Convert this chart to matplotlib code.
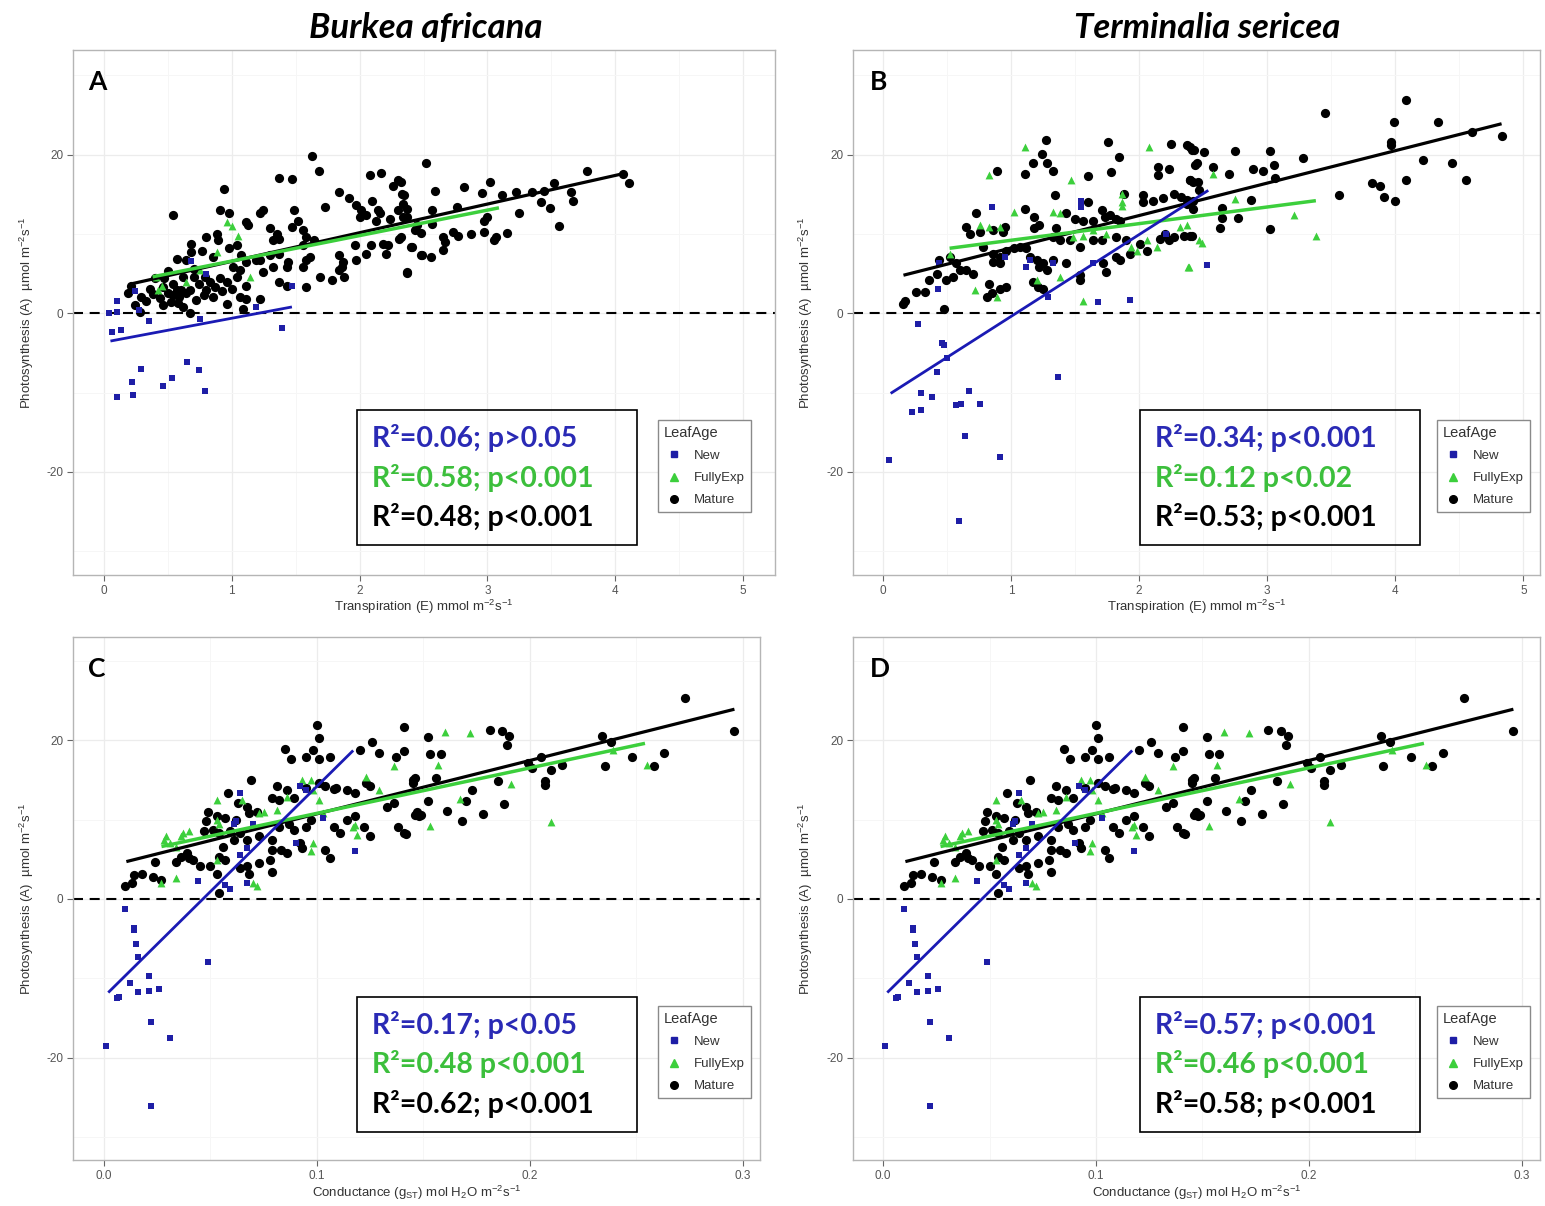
import matplotlib
matplotlib.use('Agg')
import matplotlib.pyplot as plt
from matplotlib.patches import Rectangle
from matplotlib.lines import Line2D

plt.rcParams['font.family'] = ['Liberation Sans', 'DejaVu Sans']
plt.rcParams['mathtext.fontset'] = 'custom'
plt.rcParams['mathtext.rm'] = 'Liberation Sans'
plt.rcParams['mathtext.it'] = 'Liberation Sans:italic'
plt.rcParams['mathtext.default'] = 'regular'
plt.rcParams['axes.unicode_minus'] = False

# ---------------- Panel A: Burkea africana, A vs E ----------------
a_new_x = [0.10, 0.04, 0.10, 0.06, 0.13, 0.24, 0.35, 0.27, 0.68, 0.80, 0.75, 1.19, 1.47, 1.39,
           0.29, 0.22, 0.10, 0.23, 0.46, 0.53, 0.65, 0.74, 0.79]
a_new_y = [1.55, 0.0, 0.2, -2.4, -2.1, 2.8, -1.0, 0.4, 6.6, 5.0, -0.7, 0.8, 3.5, -1.8,
           -7.0, -8.7, -10.6, -10.3, -9.2, -8.2, -6.1, -7.2, -9.8]
a_fe_x = [0.96, 1.05, 0.88, 1.14, 0.42, 0.64, 0.41, 0.45, 0.75, 1.00]
a_fe_y = [11.5, 9.7, 7.7, 4.6, 2.9, 4.0, 4.6, 3.5, 5.5, 11.0]
a_mat_x = [1.63, 1.68, 1.37, 1.47, 2.08, 2.17, 2.30, 2.26, 0.94, 0.54, 0.91, 0.98, 1.24, 1.22, 1.11, 1.13,
           1.49, 1.52, 1.84, 1.92, 1.97, 2.01, 2.00, 2.05, 2.10, 2.14, 2.16, 2.13, 2.33, 2.34, 2.30, 2.37,
           2.24, 1.73, 1.30, 1.35, 1.37, 1.32, 1.47, 1.56, 1.58, 1.64, 1.56, 0.80, 0.88, 0.89, 0.68, 0.68,
           0.77, 0.85, 0.57, 0.64, 0.98, 1.04, 1.07, 1.11, 1.19, 1.22, 1.30, 1.37, 1.44, 1.43, 1.61, 1.58,
           1.56, 1.84, 1.87, 1.86, 1.84, 1.88, 1.69, 1.78, 1.96, 1.97, 2.05, 2.09, 2.18, 2.21, 2.22, 2.31,
           2.40, 2.48, 2.37,
           0.21, 0.19, 0.29, 0.36, 0.46, 0.50, 0.54, 0.59, 0.64, 0.67, 0.74, 0.80, 0.85, 0.83, 0.91, 0.96,
           1.04, 1.06, 1.11, 0.96, 1.06, 1.11, 1.22, 1.09, 1.24, 1.32, 1.37, 1.43, 1.58, 0.24, 0.28, 0.46,
           0.62, 0.67, 0.87, 0.79, 0.70, 0.62, 0.54, 0.40, 0.47, 0.57, 1.01,
           0.33, 0.44, 0.52, 0.60, 0.72, 0.78, 0.92, 1.00, 0.70, 0.50, 0.38, 0.58,
           2.52, 2.32, 2.35, 2.37, 2.34, 2.59, 2.82, 3.02, 2.96, 3.11, 3.22, 3.35, 3.44, 3.52, 3.78, 4.06,
           4.11, 3.65, 3.67, 3.42, 3.49, 3.56, 3.25, 2.76, 2.57, 2.57, 2.97, 3.00, 2.97, 3.05, 3.07, 3.15,
           2.87, 2.73, 2.77, 2.65, 2.67, 2.65, 2.56, 2.49, 2.41, 2.37, 2.43, 2.48, 2.45, 2.32]
a_mat_y = [19.8, 17.9, 17.0, 16.9, 17.4, 17.7, 16.8, 16.1, 15.7, 12.4, 13.0, 12.6, 13.0, 12.6, 11.5, 11.1,
           13.0, 11.7, 15.3, 14.5, 13.6, 13.0, 12.1, 12.4, 14.2, 13.0, 12.6, 11.7, 15.0, 13.8, 13.0, 12.1,
           11.9, 13.4, 10.7, 10.0, 9.4, 9.2, 10.9, 10.5, 9.6, 9.2, 8.6, 9.6, 10.0, 9.2, 8.8, 7.7,
           7.9, 7.1, 6.9, 6.7, 8.2, 8.6, 7.3, 6.5, 6.7, 6.7, 7.3, 7.5, 6.5, 5.8, 7.1, 6.7,
           5.8, 7.3, 6.5, 5.8, 5.4, 4.6, 4.6, 4.2, 8.6, 6.7, 7.5, 8.6, 8.8, 7.5, 8.6, 9.4,
           8.4, 7.3, 5.2,
           3.5, 2.5, 2.1, 3.1, 3.3, 2.5, 2.3, 2.1, 2.5, 2.9, 3.7, 2.9, 2.1, 4.0, 4.4, 4.0,
           4.6, 5.4, 3.5, 1.2, 2.1, 1.8, 1.8, 0.6, 5.2, 5.8, 4.0, 3.5, 3.3, 1.0, 0.2, 1.0,
           0.8, 0.0, 3.3, 4.6, 4.6, 4.6, 3.7, 4.4, 4.4, 2.9, 5.8,
           1.6, 1.9, 1.4, 3.0, 1.7, 2.3, 2.8, 3.1, 5.6, 5.3, 2.4, 1.3,
           18.9, 16.6, 14.9, 13.2, 12.1, 15.4, 15.9, 16.6, 15.2, 14.9, 15.3, 15.3, 15.4, 16.4, 18.0, 17.6,
           16.4, 15.3, 14.2, 14.0, 13.3, 11.0, 12.6, 13.4, 13.0, 11.3, 11.7, 12.1, 10.3, 9.3, 9.6, 10.1,
           10.0, 10.3, 9.7, 9.6, 9.0, 8.0, 7.1, 7.3, 8.4, 5.1, 10.5, 10.1, 11.1, 9.6]
a_fit_new_x = [0.05, 1.47]
a_fit_new_y = [-3.5, 0.8]
a_fit_fe_x = [0.38, 3.09]
a_fit_fe_y = [4.6, 13.3]
a_fit_mat_x = [0.21, 4.06]
a_fit_mat_y = [3.7, 17.6]
a_stats = ["R²=0.06; p>0.05", "R²=0.58; p<0.001", "R²=0.48; p<0.001"]

# ---------------- Panel B: Terminalia sericea, A vs E ----------------
b_new_x = [0.85, 0.44, 0.43, 1.12, 1.15, 1.33, 1.55, 1.55, 0.95, 1.29, 1.68, 1.93, 1.64, 2.21,
           0.27, 0.46, 0.48, 0.42, 0.50, 1.37, 0.30, 0.38, 0.23, 0.30, 0.57, 0.61, 0.67, 0.76,
           0.64, 0.05, 0.91, 0.59, 2.53]
b_new_y = [13.4, 6.3, 3.1, 5.8, 6.7, 6.3, 14.2, 13.4, 7.1, 2.1, 1.4, 1.7, 6.3, 10.0,
           -1.3, -3.8, -4.0, -7.4, -5.7, -8.0, -10.1, -10.6, -12.4, -12.2, -11.6, -11.5, -9.8, -11.4,
           -15.5, -18.5, -18.1, -26.2, 6.1]
b_fe_x = [1.11, 0.83, 1.47, 1.87, 2.08, 1.02, 0.76, 0.83, 0.91, 1.33, 1.38, 1.48, 1.56, 1.64, 1.74,
          1.87, 1.87, 1.94, 1.98, 2.06, 2.14, 0.72, 0.89, 1.56, 2.38, 1.38, 2.47, 0.52, 1.20, 2.32,
          2.37, 2.58, 2.75, 3.21, 3.38, 2.49, 2.39]
b_fe_y = [21.0, 17.4, 16.8, 15.1, 21.0, 12.8, 11.1, 10.9, 10.9, 12.8, 12.6, 9.6, 9.8, 10.5, 10.0,
          14.0, 13.5, 8.4, 7.9, 9.2, 8.4, 2.9, 2.1, 1.6, 5.8, 4.6, 9.2, 7.5, 4.2, 10.9,
          11.1, 17.6, 14.4, 12.4, 9.7, 8.9, 5.8]
b_mat_x = [1.27, 1.24, 1.17, 1.28, 1.33, 1.11, 0.89, 1.60, 1.76, 1.84, 1.78, 2.25, 2.40, 2.43, 2.45, 2.15,
           2.23, 2.15, 1.34, 1.11, 0.73, 0.65, 0.76, 0.95, 0.68, 1.18, 1.22, 1.18, 1.35, 1.43, 1.50, 1.56,
           1.64, 1.73, 1.77, 1.82, 1.85, 2.03, 2.11, 2.19, 2.27, 2.33, 2.37, 2.42, 2.47, 2.40, 2.42, 1.33,
           1.38, 1.46, 1.54, 1.64, 1.71, 1.82, 1.90, 2.01, 2.06, 2.16, 2.23, 2.20, 2.27, 2.40, 0.78, 0.86,
           0.91, 0.96, 1.02, 1.07, 1.12, 1.15, 1.20, 1.25, 1.33, 1.28, 1.22, 1.43, 1.54, 1.54, 1.72, 1.74,
           1.82, 1.85, 1.93, 0.44, 0.52, 0.57, 0.60, 0.65, 0.70, 0.55, 0.49, 0.42, 0.36, 0.33, 0.26, 0.17,
           0.16, 0.48, 0.83, 0.91, 0.96, 0.81, 0.85, 1.17, 1.21, 1.25, 0.86, 0.91, 0.94, 0.86, 1.60, 1.71,
           1.88, 2.03,
           3.45, 4.08, 3.99, 4.33, 3.97, 3.97, 4.83, 4.60, 4.22, 4.44, 4.55, 4.08, 3.82, 3.88, 3.91, 4.00,
           3.56, 3.28, 3.02, 2.75, 2.51, 2.37, 2.41, 2.44, 2.58, 2.70, 2.89, 2.97, 3.05, 2.40, 2.46, 3.06,
           2.87, 2.65, 2.65, 2.77, 2.63, 3.02, 2.42, 2.37, 2.35, 2.41]
b_mat_y = [21.8, 20.1, 18.9, 18.9, 18.0, 17.6, 18.0, 17.3, 21.6, 19.7, 17.8, 21.4, 21.0, 20.6, 18.9, 18.5,
           18.2, 17.4, 14.9, 13.2, 12.6, 10.9, 10.3, 10.9, 10.0, 12.1, 11.1, 10.7, 10.7, 12.6, 11.9, 11.7,
           11.7, 12.1, 12.4, 11.9, 11.7, 14.9, 14.2, 14.5, 15.1, 14.7, 13.8, 14.2, 15.5, 16.8, 16.6, 9.6,
           9.2, 9.2, 8.4, 9.2, 9.2, 9.6, 9.2, 8.8, 7.9, 9.4, 9.2, 10.0, 9.6, 9.8, 8.4, 7.5,
           7.1, 7.9, 8.2, 8.4, 8.2, 7.1, 6.7, 6.3, 6.7, 5.4, 5.8, 6.3, 4.8, 4.2, 6.3, 5.2,
           7.1, 6.7, 7.5, 6.7, 7.1, 6.3, 5.4, 5.4, 5.0, 4.6, 4.2, 5.0, 4.2, 2.7, 2.7, 1.6,
           1.2, 0.6, 3.7, 3.1, 3.3, 2.1, 2.5, 4.0, 3.3, 3.1, 6.5, 6.3, 10.3, 10.5, 14.0, 13.0,
           15.1, 14.0,
           25.3, 26.9, 24.1, 24.1, 21.6, 21.2, 22.3, 22.9, 19.3, 18.9, 16.8, 16.8, 16.4, 16.1, 14.7, 14.2,
           14.9, 19.6, 20.5, 20.5, 20.4, 21.2, 20.6, 18.7, 18.4, 17.6, 18.2, 18.0, 18.7, 16.8, 16.6, 17.0,
           14.3, 13.3, 12.0, 12.0, 10.8, 10.6, 13.2, 14.3, 9.7, 9.7]
b_fit_new_x = [0.06, 2.54]
b_fit_new_y = [-10.1, 15.5]
b_fit_fe_x = [0.52, 3.38]
b_fit_fe_y = [8.2, 14.2]
b_fit_mat_x = [0.16, 4.83]
b_fit_mat_y = [4.8, 23.9]
b_stats = ["R²=0.34; p<0.001", "R²=0.12 p<0.02", "R²=0.53; p<0.001"]

# ---------------- Panels C and D: A vs gST (same points in both) ----------------
cd_new_x = [0.064, 0.061, 0.062, 0.070, 0.092, 0.095, 0.103, 0.090, 0.118, 0.067, 0.067, 0.044, 0.057,
            0.059, 0.064, 0.010, 0.014, 0.014, 0.015, 0.016, 0.049, 0.012, 0.021, 0.016, 0.021, 0.026,
            0.007, 0.006, 0.022, 0.031, 0.001, 0.022]
cd_new_y = [13.3, 9.5, 9.8, 9.5, 14.2, 13.7, 10.2, 7.0, 6.0, 6.4, 2.0, 2.2, 1.8,
            1.3, 5.5, -1.3, -3.7, -3.9, -5.7, -7.3, -8.0, -10.6, -9.7, -11.7, -11.6, -11.4,
            -12.3, -12.5, -15.5, -17.5, -18.5, -26.1]
cd_fe_x = [0.053, 0.028, 0.031, 0.036, 0.037, 0.040, 0.034, 0.029, 0.027, 0.034, 0.053, 0.054, 0.065,
           0.073, 0.075, 0.081, 0.086, 0.093, 0.097, 0.098, 0.101, 0.103, 0.097, 0.098, 0.123, 0.129,
           0.136, 0.118, 0.117, 0.119, 0.072, 0.070, 0.053, 0.160, 0.172, 0.157, 0.191, 0.167, 0.153,
           0.210, 0.255, 0.239]
cd_fe_y = [12.5, 7.4, 7.0, 7.9, 8.3, 8.5, 6.6, 7.9, 2.0, 2.6, 10.0, 9.5, 12.5,
           10.8, 11.0, 11.2, 12.9, 15.0, 15.0, 13.7, 12.5, 10.8, 6.0, 7.0, 15.4, 13.7,
           16.7, 9.3, 9.1, 8.1, 1.6, 2.0, 4.9, 21.0, 20.9, 16.9, 14.5, 12.6, 9.2,
           9.7, 16.9, 18.7]
cd_mat_x = [0.100, 0.101, 0.085, 0.088, 0.095, 0.098, 0.101, 0.106, 0.120, 0.126, 0.129, 0.137, 0.141,
            0.141, 0.069, 0.081, 0.086, 0.095, 0.101, 0.109, 0.114, 0.118, 0.058, 0.063, 0.067, 0.068,
            0.072, 0.079, 0.082, 0.089, 0.049, 0.053, 0.057, 0.062, 0.048, 0.047, 0.051, 0.054, 0.059,
            0.064, 0.067, 0.061, 0.056, 0.054, 0.057, 0.039, 0.040, 0.042, 0.045, 0.034, 0.036, 0.024,
            0.023, 0.027, 0.018, 0.014, 0.010, 0.013, 0.050, 0.053, 0.054, 0.064, 0.067, 0.068, 0.073,
            0.078, 0.079, 0.079, 0.086, 0.083, 0.092, 0.093, 0.095, 0.097, 0.106, 0.104, 0.108, 0.111,
            0.114, 0.118, 0.122, 0.125, 0.133, 0.136, 0.138, 0.141, 0.147, 0.148, 0.145, 0.108, 0.104,
            0.123, 0.125, 0.073, 0.079, 0.082, 0.087, 0.089,
            0.273, 0.296, 0.263, 0.248, 0.258, 0.235, 0.234, 0.238, 0.215, 0.210, 0.207, 0.207, 0.201,
            0.199, 0.205, 0.181, 0.187, 0.190, 0.189, 0.152, 0.153, 0.158, 0.146, 0.145, 0.156, 0.173,
            0.185, 0.188, 0.178, 0.170, 0.168, 0.161, 0.152, 0.146, 0.149, 0.142]
cd_mat_y = [21.9, 20.3, 18.9, 17.6, 17.9, 18.8, 17.6, 17.9, 18.7, 19.8, 18.4, 17.9, 21.7,
            18.6, 15.0, 14.2, 13.7, 14.0, 14.6, 14.0, 13.7, 13.3, 13.3, 12.1, 11.6, 10.8,
            11.0, 12.7, 12.5, 12.7, 11.0, 10.4, 10.2, 10.0, 9.8, 8.5, 8.7, 8.3, 8.5,
            8.3, 7.4, 7.4, 6.6, 5.3, 4.9, 5.8, 5.1, 4.9, 4.1, 4.7, 5.3, 4.7,
            2.8, 2.4, 3.2, 3.0, 1.6, 2.0, 4.1, 3.2, 0.7, 3.9, 4.1, 3.2, 4.5,
            4.9, 6.2, 3.4, 5.8, 6.2, 7.0, 6.4, 9.1, 10.0, 5.1, 6.2, 9.1, 8.3,
            10.0, 10.4, 9.1, 7.9, 11.6, 12.1, 9.1, 8.3, 11.0, 10.4, 15.0, 13.9, 14.2,
            14.6, 14.2, 7.9, 7.4, 9.1, 9.5, 8.7,
            25.3, 21.1, 18.4, 17.9, 16.8, 16.8, 20.5, 19.8, 16.9, 16.3, 14.4, 14.8, 16.5,
            17.1, 17.9, 21.3, 21.1, 20.5, 19.4, 20.4, 18.3, 18.3, 15.2, 14.6, 15.2, 13.7,
            14.9, 12.0, 10.7, 12.3, 9.8, 11.1, 12.3, 10.6, 10.6, 8.2]
cd_fit_new_x = [0.002, 0.117]
cd_fit_new_y = [-11.8, 18.7]
cd_fit_fe_x = [0.027, 0.254]
cd_fit_fe_y = [6.6, 19.6]
cd_fit_mat_x = [0.0105, 0.296]
cd_fit_mat_y = [4.7, 23.9]
c_stats = ["R²=0.17; p<0.05", "R²=0.48 p<0.001", "R²=0.62; p<0.001"]
d_stats = ["R²=0.57; p<0.001", "R²=0.46 p<0.001", "R²=0.58; p<0.001"]

species = ["Burkea africana", "Terminalia sericea"]
panel_letters = ["A", "B", "C", "D"]
leaf_ages = ["New", "FullyExp", "Mature"]
e_ticks = [0, 1, 2, 3, 4, 5]
g_ticks = [0.0, 0.1, 0.2, 0.3]
g_tick_labels = ["0.0", "0.1", "0.2", "0.3"]
y_ticks = [-20, 0, 20]

# ---------------- styling ----------------
W, H = 1545, 1206
BLUE = '#1e1ea6'
GREEN = '#3ccf3c'
BLUE_TXT = '#2a2ab5'
GREEN_TXT = '#3cbf3c'
STAT_COLORS = [BLUE_TXT, GREEN_TXT, 'black']

fig = plt.figure(figsize=(W / 100, H / 100), dpi=100)
fig.patch.set_facecolor('white')


def rect(l, t, r, b):
    return [l / W, 1 - b / H, (r - l) / W, (b - t) / H]


def fx(px):
    return px / W


def fy(py):
    return 1 - py / H


def panel(box, xlim, ylim, xt, xtl, xminor, data, fits, stats, letter,
          letter_pos, stat_box, leg_pos, xlabel, xlabel_y, ylabel_x):
    ax = fig.add_axes(rect(*box))
    ax.set_facecolor('white')
    ax.set_xlim(xlim)
    ax.set_ylim(ylim)
    ax.set_xticks(xt)
    ax.set_xticklabels(xtl)
    ax.set_xticks(xminor, minor=True)
    ax.set_yticks(y_ticks)
    ax.set_yticklabels([str(v) for v in y_ticks])
    ax.set_yticks([-30, -10, 10, 30], minor=True)
    ax.set_axisbelow(True)
    ax.grid(which='major', color='#ececec', lw=0.9)
    ax.grid(which='minor', color='#f6f6f6', lw=0.7)
    ax.tick_params(which='minor', length=0)
    ax.tick_params(which='major', length=4, width=0.8, color='#666666',
                   labelcolor='#555555', labelsize=8.5, pad=3)
    for s in ax.spines.values():
        s.set_color('#b5b5b5')
        s.set_linewidth(1.0)
    ax.axhline(0, color='black', lw=1.5, ls=(0, (4.8, 3.2)), zorder=2)
    (nx, ny), (fex, fey), (mx, my) = data
    ax.scatter(mx, my, s=44, c='black', marker='o', linewidths=0, zorder=3)
    ax.scatter(fex, fey, s=32, c=GREEN, marker='^', linewidths=0, zorder=4)
    ax.scatter(nx, ny, s=24, c=BLUE, marker='s', linewidths=0, zorder=5)
    (fnx, fny), (ffx, ffy), (fmx, fmy) = fits
    ax.plot(fmx, fmy, color='black', lw=2.3, zorder=6, solid_capstyle='butt')
    ax.plot(ffx, ffy, color=GREEN, lw=2.5, zorder=6, solid_capstyle='butt')
    ax.plot(fnx, fny, color='#1a1ab4', lw=2.0, zorder=7, solid_capstyle='butt')

    # panel letter
    fig.text(fx(letter_pos[0]), fy(letter_pos[1]), letter, fontsize=19,
             fontweight='bold', family=['Lato', 'DejaVu Sans'], va='baseline', ha='left')

    # stats box
    l, t, r, b = stat_box
    fig.patches.append(Rectangle((fx(l), fy(b)), fx(r - l), (b - t) / H,
                                 transform=fig.transFigure, fill=False,
                                 edgecolor='black', lw=1.2, zorder=10))
    for i, (txt, col) in enumerate(zip(stats, STAT_COLORS)):
        fig.text(fx(l + 15), fy(t + 37 + 39.5 * i), txt, color=col, fontsize=20.5,
                 fontweight='bold', family=['Lato', 'DejaVu Sans'], va='baseline', ha='left')

    # legend
    handles = [Line2D([], [], ls='none', marker='s', color=BLUE, markersize=4.5),
               Line2D([], [], ls='none', marker='^', color=GREEN, markersize=5.5),
               Line2D([], [], ls='none', marker='o', color='black', markersize=5.5)]
    leg = ax.legend(handles, leaf_ages, title='LeafAge', loc='upper left',
                    bbox_to_anchor=(fx(leg_pos[0]), fy(leg_pos[1])),
                    bbox_transform=fig.transFigure, fontsize=9.5, title_fontsize=10.5,
                    frameon=True, fancybox=False, edgecolor='#8a8a8a', framealpha=1,
                    borderpad=0.45, labelspacing=0.75, handlelength=1.6,
                    handletextpad=0.7, borderaxespad=0, alignment='left')
    leg.get_frame().set_linewidth(1.0)
    for tx in leg.get_texts():
        tx.set_color('#333333')
    leg.get_title().set_color('#333333')

    # axis labels
    cx = (box[0] + box[2]) / 2
    fig.text(fx(cx), fy(xlabel_y), xlabel, fontsize=9.5, color='#333333',
             ha='center', va='center')
    cy = (box[1] + box[3]) / 2
    fig.text(fx(ylabel_x), fy(cy), r"Photosynthesis (A)  µmol m$^{-2}$s$^{-1}$",
             fontsize=9.5, color='#333333', ha='center', va='center', rotation=90)
    return ax


xlab_e = r"Transpiration (E) mmol m$^{-2}$s$^{-1}$"
xlab_g = r"Conductance (g$_{ST}$) mol H$_2$O m$^{-2}$s$^{-1}$"
e_minor = [0.5, 1.5, 2.5, 3.5, 4.5]
g_minor = [0.05, 0.15, 0.25]

panel((73, 50, 775, 575), (-0.243, 5.25), (-33.0, 33.2), e_ticks, [str(v) for v in e_ticks], e_minor,
      ((a_new_x, a_new_y), (a_fe_x, a_fe_y), (a_mat_x, a_mat_y)),
      ((a_fit_new_x, a_fit_new_y), (a_fit_fe_x, a_fit_fe_y), (a_fit_mat_x, a_fit_mat_y)),
      a_stats, panel_letters[0], (88, 90), (357, 410, 637, 545), (658, 420), xlab_e, 607, 27)

panel((853, 50, 1540, 575), (-0.234, 5.13), (-33.0, 33.2), e_ticks, [str(v) for v in e_ticks], e_minor,
      ((b_new_x, b_new_y), (b_fe_x, b_fe_y), (b_mat_x, b_mat_y)),
      ((b_fit_new_x, b_fit_new_y), (b_fit_fe_x, b_fit_fe_y), (b_fit_mat_x, b_fit_mat_y)),
      b_stats, panel_letters[1], (870, 90), (1140, 410, 1420, 545), (1437, 420), xlab_e, 607, 806)

panel((73, 637, 760, 1160), (-0.01455, 0.308), (-32.9, 33.0), g_ticks, g_tick_labels, g_minor,
      ((cd_new_x, cd_new_y), (cd_fe_x, cd_fe_y), (cd_mat_x, cd_mat_y)),
      ((cd_fit_new_x, cd_fit_new_y), (cd_fit_fe_x, cd_fit_fe_y), (cd_fit_mat_x, cd_fit_mat_y)),
      c_stats, panel_letters[2], (88, 677), (357, 997, 637, 1132), (658, 1006), xlab_g, 1193, 27)

panel((853, 637, 1540, 1160), (-0.0141, 0.3085), (-32.9, 33.0), g_ticks, g_tick_labels, g_minor,
      ((cd_new_x, cd_new_y), (cd_fe_x, cd_fe_y), (cd_mat_x, cd_mat_y)),
      ((cd_fit_new_x, cd_fit_new_y), (cd_fit_fe_x, cd_fit_fe_y), (cd_fit_mat_x, cd_fit_mat_y)),
      d_stats, panel_letters[3], (870, 677), (1140, 997, 1420, 1132), (1437, 1006), xlab_g, 1193, 806)

# species titles
fig.text(fx(426), fy(38), species[0], fontsize=25, style='italic', fontweight='bold',
         family=['Lato', 'DejaVu Sans'], ha='center', va='baseline')
fig.text(fx(1207), fy(38), species[1], fontsize=25, style='italic', fontweight='bold',
         family=['Lato', 'DejaVu Sans'], ha='center', va='baseline')

fig.savefig('out.png', dpi=100, facecolor='white')
